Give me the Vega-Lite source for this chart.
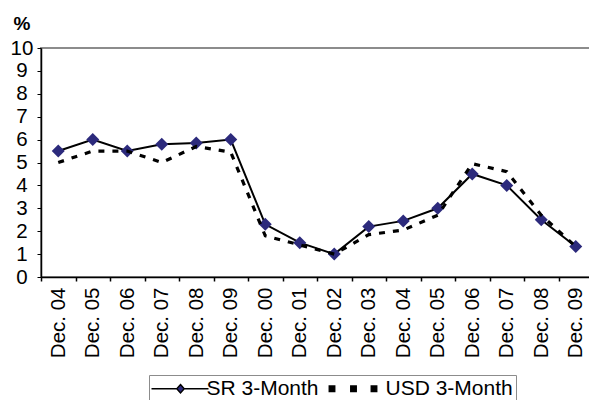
{
  "$schema": "https://vega.github.io/schema/vega-lite/v6.json",
  "width": 552,
  "height": 229,
  "autosize": {"type": "none"},
  "padding": {"left": 41, "top": 48, "right": 0, "bottom": 123},
  "background": "white",
  "config": {
    "font": "Liberation Sans",
    "view": {"stroke": "#8c8c8c", "strokeWidth": 2}
  },
  "data": {
    "values": [
      {"year": 1994, "series": "SR 3-Month", "rate": 5.5},
      {"year": 1995, "series": "SR 3-Month", "rate": 6.0},
      {"year": 1996, "series": "SR 3-Month", "rate": 5.5},
      {"year": 1997, "series": "SR 3-Month", "rate": 5.8},
      {"year": 1998, "series": "SR 3-Month", "rate": 5.85},
      {"year": 1999, "series": "SR 3-Month", "rate": 6.0},
      {"year": 2000, "series": "SR 3-Month", "rate": 2.3},
      {"year": 2001, "series": "SR 3-Month", "rate": 1.5},
      {"year": 2002, "series": "SR 3-Month", "rate": 1.0},
      {"year": 2003, "series": "SR 3-Month", "rate": 2.2},
      {"year": 2004, "series": "SR 3-Month", "rate": 2.45},
      {"year": 2005, "series": "SR 3-Month", "rate": 3.0},
      {"year": 2006, "series": "SR 3-Month", "rate": 4.5},
      {"year": 2007, "series": "SR 3-Month", "rate": 4.0},
      {"year": 2008, "series": "SR 3-Month", "rate": 2.5},
      {"year": 2009, "series": "SR 3-Month", "rate": 1.33},
      {"year": 1994, "series": "USD 3-Month", "rate": 5.0},
      {"year": 1995, "series": "USD 3-Month", "rate": 5.5},
      {"year": 1996, "series": "USD 3-Month", "rate": 5.5},
      {"year": 1997, "series": "USD 3-Month", "rate": 5.0},
      {"year": 1998, "series": "USD 3-Month", "rate": 5.7},
      {"year": 1999, "series": "USD 3-Month", "rate": 5.45},
      {"year": 2000, "series": "USD 3-Month", "rate": 1.8},
      {"year": 2001, "series": "USD 3-Month", "rate": 1.4},
      {"year": 2002, "series": "USD 3-Month", "rate": 1.0},
      {"year": 2003, "series": "USD 3-Month", "rate": 1.85},
      {"year": 2004, "series": "USD 3-Month", "rate": 2.05},
      {"year": 2005, "series": "USD 3-Month", "rate": 2.7},
      {"year": 2006, "series": "USD 3-Month", "rate": 4.95},
      {"year": 2007, "series": "USD 3-Month", "rate": 4.6},
      {"year": 2008, "series": "USD 3-Month", "rate": 2.7},
      {"year": 2009, "series": "USD 3-Month", "rate": 1.33}
    ]
  },
  "encoding": {
    "x": {
      "field": "year",
      "type": "ordinal",
      "sort": null,
      "scale": {"type": "band", "paddingInner": 0, "paddingOuter": 0},
      "axis": {
        "title": null,
        "grid": false,
        "tickBand": "extent",
        "domainColor": "black",
        "domainWidth": 1.5,
        "tickColor": "black",
        "tickWidth": 1.5,
        "tickSize": 4,
        "labelAngle": -90,
        "labelAlign": "right",
        "labelBaseline": "middle",
        "labelPadding": 6,
        "labelFont": "Liberation Sans",
        "labelFontSize": 20.5,
        "labelColor": "black",
        "labelExpr": "datum.label ? 'Dec. 0' + (toNumber(datum.label) % 10) : ''"
      }
    },
    "y": {
      "field": "rate",
      "type": "quantitative",
      "scale": {"domain": [0, 10], "nice": false, "zero": true},
      "axis": {
        "title": "%",
        "titleAngle": 0,
        "titleAlign": "left",
        "titleBaseline": "alphabetic",
        "titleX": -28,
        "titleY": -19,
        "titleFont": "Liberation Sans",
        "titleFontSize": 19,
        "titleFontWeight": "bold",
        "titleColor": "black",
        "values": [0, 1, 2, 3, 4, 5, 6, 7, 8, 9, 10],
        "grid": false,
        "domainColor": "black",
        "domainWidth": 1.5,
        "tickColor": "black",
        "tickSize": 4,
        "labelAlign": "center",
        "labelPadding": 15.5,
        "labelFont": "Liberation Sans",
        "labelFontSize": 20.5,
        "labelColor": "black"
      }
    }
  },
  "layer": [
    {
      "transform": [{"filter": "datum.series === 'SR 3-Month'"}],
      "mark": {"type": "line", "color": "black", "strokeWidth": 2}
    },
    {
      "transform": [{"filter": "datum.series === 'SR 3-Month'"}],
      "mark": {"type": "point", "shape": "diamond", "filled": true, "color": "#2c2a7c", "opacity": 1, "size": 169}
    },
    {
      "transform": [{"filter": "datum.series === 'USD 3-Month'"}],
      "mark": {"type": "line", "color": "black", "strokeWidth": 3.2, "strokeDash": [6, 8]}
    },
    {
      "transform": [{"filter": "datum.rate > 100"}],
      "mark": {"type": "point", "filled": true, "opacity": 1},
      "encoding": {
        "color": {
          "field": "series",
          "type": "nominal",
          "scale": {"domain": ["SR 3-Month", "USD 3-Month"], "range": ["#2c2a7c", "black"]},
          "legend": {
            "orient": "none",
            "legendX": 108,
            "legendY": 327,
            "direction": "horizontal",
            "title": null,
            "strokeColor": "#8c8c8c",
            "padding": 3,
            "symbolSize": 100,
            "symbolOpacity": 1,
            "symbolOffset": 16.5,
            "labelOffset": 17,
            "columnPadding": 7,
            "labelFont": "Liberation Sans",
            "labelFontSize": 21,
            "labelColor": "black",
            "encode": {
              "symbols": {
                "update": {
                  "stroke": {"value": "black"},
                  "strokeWidth": {"value": 1.4}
                }
              }
            }
          }
        },
        "shape": {
          "field": "series",
          "type": "nominal",
          "scale": {
            "domain": ["SR 3-Month", "USD 3-Month"],
            "range": [
              "M-5.5,0H-0.45M1.05,0H5.9M0.3,-0.85L1.05,0L0.3,0.85L-0.45,0Z",
              "M-5.75,-0.55H-4.65V0.55H-5.75ZM-1.45,-0.55H-0.35V0.55H-1.45ZM2.65,-0.55H3.75V0.55H2.65Z"
            ]
          }
        }
      }
    }
  ]
}
